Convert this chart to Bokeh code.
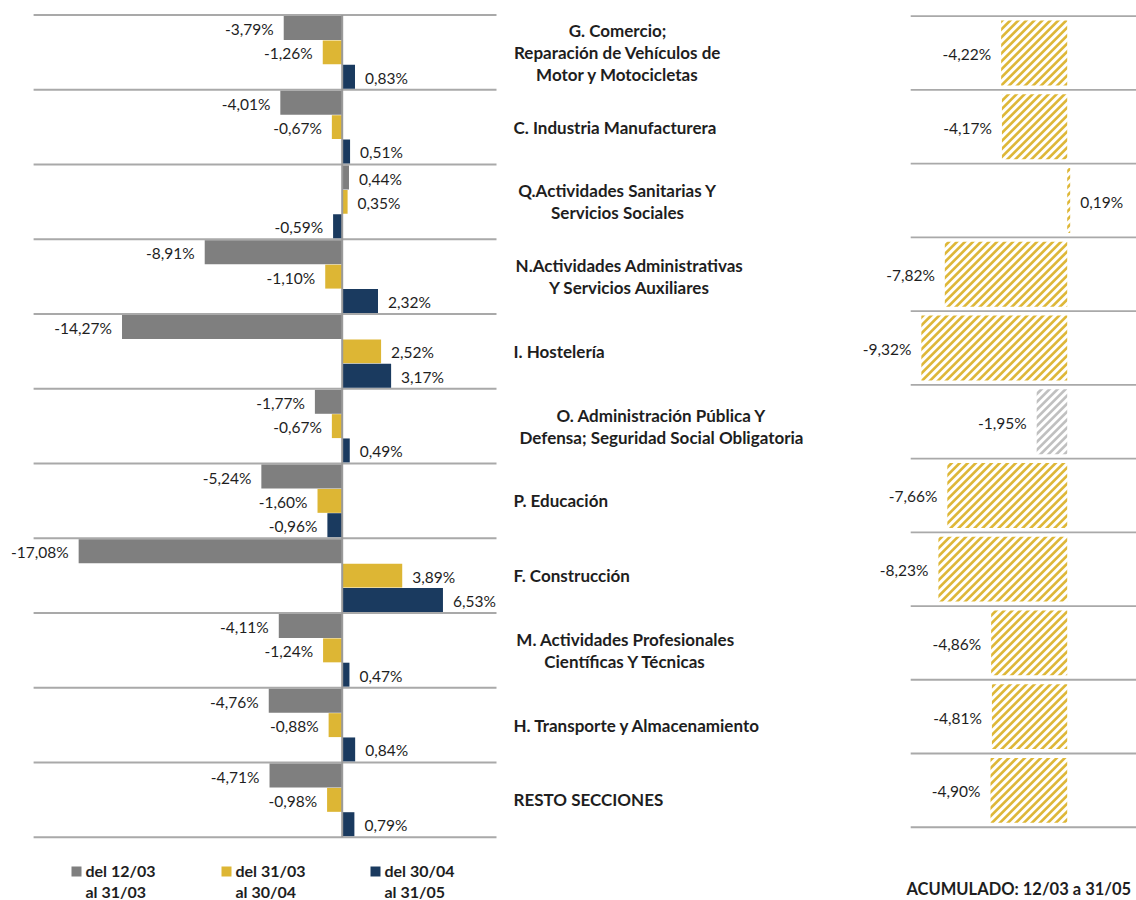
import zlib, struct, base64
from bokeh.plotting import figure
from bokeh.models import Range1d, ColumnDataSource, ImageURLTexture
from bokeh.layouts import row
from bokeh.embed import file_html
from bokeh.resources import INLINE
from bokeh.core.properties import value, field

# ---------------- data ----------------
categories = [
    "G. Comercio;\nReparación de Vehículos de\nMotor y Motocicletas",
    "C. Industria Manufacturera",
    "Q.Actividades Sanitarias Y\nServicios Sociales",
    "N.Actividades Administrativas\nY Servicios Auxiliares",
    "I. Hostelería",
    "O. Administración Pública Y\nDefensa; Seguridad Social Obligatoria",
    "P. Educación",
    "F. Construcción",
    "M. Actividades Profesionales\nCientíficas Y Técnicas",
    "H. Transporte y Almacenamiento",
    "RESTO SECCIONES",
]
del_12_03_al_31_03 = [-3.79, -4.01, 0.44, -8.91, -14.27, -1.77, -5.24, -17.08, -4.11, -4.76, -4.71]
del_31_03_al_30_04 = [-1.26, -0.67, 0.35, -1.10, 2.52, -0.67, -1.60, 3.89, -1.24, -0.88, -0.98]
del_30_04_al_31_05 = [0.83, 0.51, -0.59, 2.32, 3.17, 0.49, -0.96, 6.53, 0.47, 0.84, 0.79]
acumulado = [-4.22, -4.17, 0.19, -7.82, -9.32, -1.95, -7.66, -8.23, -4.86, -4.81, -4.90]
legend_labels = ["del 12/03\nal 31/03", "del 31/03\nal 30/04", "del 30/04\nal 31/05"]
acum_title = "ACUMULADO: 12/03 a 31/05"

# ---------------- style ----------------
GRAY, GOLD, NAVY = "#7F7F7F", "#DDB634", "#1A3A5F"
HATCH_GOLD_RGB, HATCH_GRAY_RGB = (222, 183, 56), (192, 192, 192)
GRID = "#A9A9A9"
FONT = value("Lato")
TXT = "#1E1E1E"
H = 900
W_A, W_B, W_C = 500, 345, 291
X_A0, X_B0, X_C0 = 0, W_A, W_A + W_B


def stripe_tile(rgb, size=8, thick=3.6, ss=4):
    """45-degree '/' stripe texture as a PNG data URL."""
    rows = []
    for y in range(size):
        line = bytearray([0])
        for x in range(size):
            cov = 0
            for j in range(ss):
                for i in range(ss):
                    s = (x + (i + 0.5) / ss + y + (j + 0.5) / ss) % size
                    if s < thick:
                        cov += 1
            cov /= ss * ss
            line += bytes(int(round(255 - cov * (255 - c))) for c in rgb)
        rows.append(bytes(line))
    raw = b"".join(rows)

    def chunk(t, d):
        return struct.pack(">I", len(d)) + t + d + struct.pack(">I", zlib.crc32(t + d) & 0xFFFFFFFF)

    png = (b"\x89PNG\r\n\x1a\n"
           + chunk(b"IHDR", struct.pack(">IIBBBBB", size, size, 8, 2, 0, 0, 0))
           + chunk(b"IDAT", zlib.compress(raw))
           + chunk(b"IEND", b""))
    return "data:image/png;base64," + base64.b64encode(png).decode()


def fmt(v):
    return f"{v:.2f}".replace(".", ",") + "%"

# page-pixel geometry helpers (layout only)
L_ZERO, L_PX = 341.7, 15.43
L_TOP, L_BAND = 14.5, 74.75
R_ZERO, R_PX = 1066.7, 15.65
R_TOP, R_BAND = 15.7, 73.73

def lx(px): return (px - L_ZERO) / L_PX
def ly(py): return (py - L_TOP) / L_BAND - 0.5
def rx(px): return (px - R_ZERO) / R_PX
def ry(py): return (py - R_TOP) / R_BAND - 0.5

def base(width, xr, yr):
    p = figure(width=width, height=H, x_range=xr, y_range=yr,
               output_backend="svg", toolbar_location=None,
               x_axis_location=None, y_axis_location=None, min_border=0)
    p.outline_line_color = None
    p.grid.visible = False
    p.background_fill_color = "white"
    p.border_fill_color = "white"
    return p

n = len(categories)
idx = list(range(n))
bounds = [k - 0.5 for k in range(n + 1)]

def add_labels(p, xs, ys, size="15.5px"):
    neg = [(x, y) for x, y in zip(xs, ys) if x < 0]
    pos = [(x, y) for x, y in zip(xs, ys) if x >= 0]
    if neg:
        p.text(x=[a for a, _ in neg], y=[b for _, b in neg], text=[fmt(a) for a, _ in neg],
               text_align="right", text_baseline="middle", x_offset=-10, y_offset=1,
               text_font=FONT, text_font_size=size, text_color=TXT)
    if pos:
        p.text(x=[a for a, _ in pos], y=[b for _, b in pos], text=[fmt(a) for a, _ in pos],
               text_align="left", text_baseline="middle", x_offset=10, y_offset=1,
               text_font=FONT, text_font_size=size, text_color=TXT)

# ---------------- left panel ----------------
pa = base(W_A, Range1d(lx(X_A0), lx(X_A0 + W_A)), Range1d(ly(H), ly(0)))
pa.segment(x0=[-20] * len(bounds), x1=[10] * len(bounds), y0=bounds, y1=bounds,
           line_color=GRID, line_width=1.8)
BAR_H, OFF = 0.32, 0.325
series = [del_12_03_al_31_03, del_31_03_al_30_04, del_30_04_al_31_05]
colors = [GRAY, GOLD, NAVY]
for s, c, o in zip(series, colors, [-OFF, 0, OFF]):
    ys = [i + o for i in idx]
    pa.hbar(y=ys, left=0, right=s, height=BAR_H, fill_color=c, line_color=None)
    add_labels(pa, s, ys)
pa.segment(x0=[0], x1=[0], y0=[bounds[0]], y1=[bounds[-1]], line_color="#9A9A9A", line_width=2)

# legend
sq_px = [76, 226, 375]
tx_px = [85, 235, 384]
pa.scatter(x=[lx(v) for v in sq_px], y=[ly(871)] * 3, marker="square", size=10,
           fill_color=colors, line_color=None)
first = [lab.split("\n")[0] for lab in legend_labels]
second = [lab.split("\n")[1] for lab in legend_labels]
pa.text(x=[lx(v) for v in tx_px], y=[ly(870)] * 3, text=first, text_align="left",
        text_baseline="middle", text_font=FONT, text_font_size="16px",
        text_font_style="bold", text_color=TXT)
pa.text(x=[lx(v) for v in tx_px], y=[ly(891)] * 3, text=second, text_align="left",
        text_baseline="middle", text_font=FONT, text_font_size="16px",
        text_font_style="bold", text_color=TXT)

# ---------------- middle labels ----------------
pb = base(W_B, Range1d(X_B0, X_B0 + W_B), Range1d(ly(H), ly(0)))
LEFT = 513
LINE = 22 / L_BAND
CHAR_W = 8.0
sx, sy, st = [], [], []
cx, cy, ct = [], [], []
for i, cat in enumerate(categories):
    lines = cat.split("\n")
    if len(lines) == 1:
        sx.append(LEFT); sy.append(i); st.append(cat)
    else:
        w = max(len(l) for l in lines) * CHAR_W
        for j, l in enumerate(lines):
            cx.append(LEFT + w / 2)
            cy.append(i + (j - (len(lines) - 1) / 2) * LINE)
            ct.append(l)
pb.text(x=sx, y=sy, text=st, text_align="left", text_baseline="middle",
        text_font=FONT, text_font_size="17px", text_font_style="bold", text_color=TXT)
pb.text(x=cx, y=cy, text=ct, text_align="center", text_baseline="middle",
        text_font=FONT, text_font_size="17px", text_font_style="bold", text_color=TXT)

# ---------------- right panel ----------------
pc = base(W_C, Range1d(rx(X_C0), rx(X_C0 + W_C)), Range1d(ry(H), ry(0)))
pc.segment(x0=[-10] * len(bounds), x1=[rx(X_C0 + W_C)] * len(bounds), y0=bounds, y1=bounds,
           line_color=GRID, line_width=1.8)
patterns = ["graystripe" if c.startswith("O.") else "goldstripe" for c in categories]
src = ColumnDataSource(dict(y=idx, right=acumulado, pat=patterns))
textures = {
    "goldstripe": ImageURLTexture(url=stripe_tile(HATCH_GOLD_RGB)),
    "graystripe": ImageURLTexture(url=stripe_tile(HATCH_GRAY_RGB)),
}
pc.hbar(y="y", left=0, right="right", height=0.88, source=src, fill_color="white",
        line_color=None, hatch_pattern=field("pat"), hatch_extra=textures)
add_labels(pc, acumulado, idx)
pc.text(x=[rx(906)], y=[ry(888)], text=[acum_title], text_align="left", text_baseline="middle",
        text_font=FONT, text_font_size="16.5px", text_font_style="bold", text_color=TXT)

layout = row(pa, pb, pc, spacing=0)
open("out.html", "w").write(file_html(layout, INLINE))
